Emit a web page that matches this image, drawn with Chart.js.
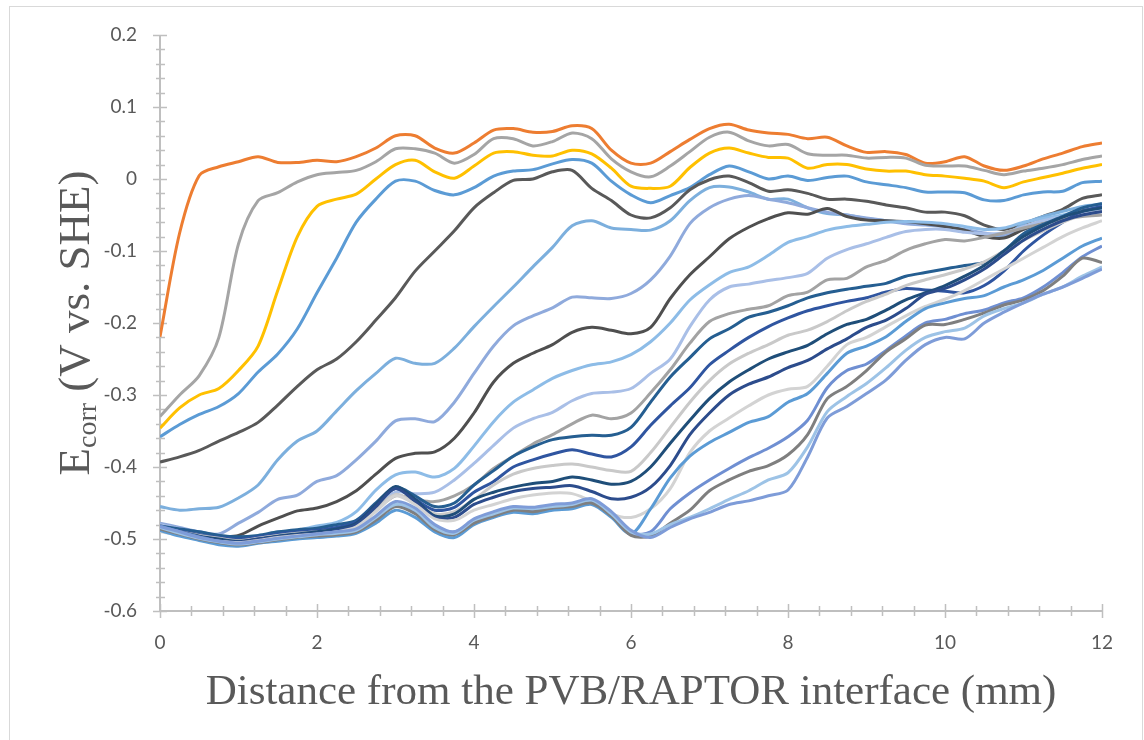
<!DOCTYPE html>
<html>
<head>
<meta charset="utf-8">
<script src="https://cdn.jsdelivr.net/npm/chart.js@4.4.1/dist/chart.umd.min.js"></script>
<style>
  html, body { margin: 0; padding: 0; background: #ffffff; }
  #wrap { width: 1144px; height: 740px; }
</style>
</head>
<body>
<div id="wrap"><canvas id="chart" width="1144" height="740"></canvas></div>
<script>
// Distance from the PVB/RAPTOR interface (mm)
const distanceMm = [0, 0.25, 0.5, 0.75, 1, 1.25, 1.5, 1.75, 2, 2.25, 2.5, 2.75, 3, 3.25, 3.5, 3.75,
  4, 4.25, 4.5, 4.75, 5, 5.25, 5.5, 5.75, 6, 6.25, 6.5, 6.75, 7, 7.25, 7.5, 7.75,
  8, 8.25, 8.5, 8.75, 9, 9.25, 9.5, 9.75, 10, 10.25, 10.5, 10.75, 11, 11.25, 11.5, 11.75, 12];

// Ecorr profiles (V vs. SHE), one array per scan
const scan01 = [-0.219,-0.075,0.005,0.017,0.024,0.031,0.023,0.023,0.026,0.024,0.031,0.043,0.06,0.06,0.043,0.036,0.05,0.068,0.07,0.065,0.066,0.074,0.07,0.04,0.022,0.022,0.038,0.055,0.07,0.076,0.068,0.064,0.062,0.056,0.058,0.046,0.037,0.038,0.034,0.022,0.024,0.031,0.018,0.012,0.018,0.028,0.036,0.045,0.05];
const scan02 = [-0.33,-0.3,-0.273,-0.22,-0.09,-0.03,-0.019,-0.004,0.006,0.009,0.012,0.024,0.042,0.042,0.036,0.022,0.034,0.056,0.056,0.046,0.052,0.064,0.056,0.028,0.01,0.003,0.018,0.038,0.058,0.065,0.053,0.046,0.048,0.035,0.033,0.033,0.029,0.03,0.029,0.019,0.018,0.018,0.012,0.006,0.011,0.015,0.02,0.027,0.032];
const scan03 = [-0.346,-0.318,-0.3,-0.291,-0.266,-0.232,-0.155,-0.08,-0.038,-0.028,-0.021,0.0,0.02,0.026,0.01,0.001,0.018,0.036,0.038,0.033,0.032,0.04,0.035,0.015,-0.01,-0.013,-0.01,0.016,0.036,0.043,0.036,0.03,0.029,0.015,0.02,0.02,0.014,0.011,0.011,0.006,0.004,0.001,-0.003,-0.012,-0.004,0.002,0.008,0.015,0.02];
const scan04 = [-0.358,-0.341,-0.327,-0.316,-0.298,-0.268,-0.243,-0.208,-0.158,-0.11,-0.06,-0.028,-0.003,-0.003,-0.016,-0.022,-0.012,0.004,0.011,0.013,0.021,0.027,0.022,-0.003,-0.022,-0.033,-0.023,-0.012,0.006,0.018,0.01,0.0,0.004,-0.002,0.002,0.004,-0.004,-0.008,-0.012,-0.018,-0.018,-0.019,-0.029,-0.03,-0.022,-0.018,-0.017,-0.005,-0.003];
const scan05 = [-0.393,-0.386,-0.377,-0.364,-0.352,-0.338,-0.314,-0.288,-0.265,-0.25,-0.226,-0.196,-0.165,-0.128,-0.1,-0.072,-0.04,-0.019,-0.002,0.0,0.01,0.012,-0.013,-0.03,-0.05,-0.054,-0.04,-0.015,-0.001,0.004,-0.005,-0.017,-0.015,-0.02,-0.028,-0.028,-0.031,-0.036,-0.04,-0.046,-0.046,-0.051,-0.064,-0.07,-0.062,-0.052,-0.042,-0.027,-0.022];
const scan06 = [-0.455,-0.46,-0.458,-0.456,-0.443,-0.425,-0.39,-0.364,-0.35,-0.322,-0.294,-0.27,-0.249,-0.256,-0.256,-0.235,-0.205,-0.177,-0.15,-0.122,-0.095,-0.065,-0.058,-0.068,-0.07,-0.071,-0.058,-0.03,-0.012,-0.011,-0.018,-0.028,-0.028,-0.04,-0.048,-0.05,-0.055,-0.058,-0.06,-0.063,-0.066,-0.071,-0.076,-0.08,-0.062,-0.052,-0.045,-0.038,-0.035];
const scan07 = [-0.478,-0.484,-0.49,-0.493,-0.478,-0.463,-0.445,-0.439,-0.42,-0.412,-0.39,-0.364,-0.336,-0.333,-0.337,-0.31,-0.27,-0.232,-0.204,-0.19,-0.179,-0.164,-0.165,-0.166,-0.159,-0.14,-0.107,-0.062,-0.04,-0.028,-0.023,-0.028,-0.033,-0.04,-0.046,-0.05,-0.054,-0.058,-0.062,-0.064,-0.066,-0.07,-0.075,-0.078,-0.07,-0.062,-0.055,-0.048,-0.042];
const scan08 = [-0.485,-0.488,-0.492,-0.496,-0.495,-0.482,-0.471,-0.461,-0.457,-0.448,-0.433,-0.41,-0.388,-0.381,-0.379,-0.36,-0.325,-0.282,-0.256,-0.242,-0.23,-0.213,-0.206,-0.21,-0.215,-0.206,-0.166,-0.133,-0.108,-0.083,-0.067,-0.055,-0.047,-0.049,-0.041,-0.052,-0.057,-0.058,-0.059,-0.062,-0.066,-0.071,-0.08,-0.082,-0.07,-0.06,-0.052,-0.044,-0.04];
const scan09 = [-0.483,-0.488,-0.494,-0.498,-0.499,-0.496,-0.492,-0.488,-0.482,-0.477,-0.462,-0.432,-0.411,-0.407,-0.414,-0.402,-0.371,-0.337,-0.31,-0.293,-0.277,-0.266,-0.258,-0.254,-0.244,-0.226,-0.2,-0.168,-0.147,-0.13,-0.122,-0.106,-0.088,-0.08,-0.071,-0.066,-0.063,-0.06,-0.059,-0.06,-0.062,-0.066,-0.07,-0.068,-0.06,-0.055,-0.05,-0.045,-0.042];
const scan10 = [-0.48,-0.486,-0.492,-0.497,-0.5,-0.497,-0.493,-0.488,-0.486,-0.482,-0.475,-0.455,-0.435,-0.437,-0.435,-0.418,-0.395,-0.37,-0.346,-0.333,-0.324,-0.308,-0.298,-0.296,-0.291,-0.27,-0.25,-0.205,-0.168,-0.15,-0.146,-0.141,-0.137,-0.131,-0.11,-0.098,-0.09,-0.081,-0.073,-0.07,-0.07,-0.074,-0.076,-0.075,-0.066,-0.058,-0.052,-0.048,-0.045];
const scan11 = [-0.482,-0.487,-0.493,-0.498,-0.5,-0.498,-0.494,-0.49,-0.488,-0.485,-0.478,-0.46,-0.44,-0.445,-0.448,-0.44,-0.425,-0.402,-0.385,-0.368,-0.355,-0.34,-0.328,-0.333,-0.325,-0.297,-0.265,-0.228,-0.198,-0.187,-0.181,-0.176,-0.162,-0.157,-0.14,-0.138,-0.122,-0.113,-0.099,-0.09,-0.084,-0.086,-0.081,-0.075,-0.068,-0.062,-0.056,-0.052,-0.05];
const scan12 = [-0.482,-0.486,-0.49,-0.495,-0.497,-0.495,-0.49,-0.487,-0.485,-0.48,-0.474,-0.45,-0.428,-0.44,-0.455,-0.45,-0.425,-0.405,-0.385,-0.372,-0.362,-0.358,-0.356,-0.356,-0.345,-0.31,-0.275,-0.248,-0.222,-0.208,-0.192,-0.185,-0.176,-0.165,-0.158,-0.153,-0.149,-0.145,-0.135,-0.13,-0.125,-0.12,-0.116,-0.1,-0.076,-0.063,-0.052,-0.04,-0.034];
const scan13 = [-0.484,-0.489,-0.494,-0.498,-0.5,-0.497,-0.493,-0.49,-0.488,-0.484,-0.476,-0.452,-0.43,-0.445,-0.46,-0.456,-0.435,-0.42,-0.4,-0.39,-0.382,-0.376,-0.382,-0.386,-0.372,-0.342,-0.315,-0.29,-0.258,-0.238,-0.22,-0.205,-0.193,-0.183,-0.176,-0.17,-0.165,-0.157,-0.152,-0.154,-0.156,-0.158,-0.148,-0.128,-0.1,-0.078,-0.06,-0.045,-0.038];
const scan14 = [-0.485,-0.49,-0.495,-0.499,-0.502,-0.499,-0.495,-0.492,-0.49,-0.487,-0.48,-0.458,-0.438,-0.45,-0.465,-0.462,-0.445,-0.425,-0.41,-0.402,-0.398,-0.396,-0.4,-0.405,-0.406,-0.38,-0.345,-0.31,-0.28,-0.257,-0.242,-0.23,-0.217,-0.21,-0.198,-0.183,-0.17,-0.16,-0.148,-0.14,-0.133,-0.125,-0.115,-0.1,-0.085,-0.072,-0.06,-0.05,-0.045];
const scan15 = [-0.486,-0.49,-0.496,-0.5,-0.503,-0.5,-0.496,-0.493,-0.49,-0.486,-0.478,-0.452,-0.427,-0.445,-0.468,-0.465,-0.445,-0.435,-0.428,-0.423,-0.42,-0.414,-0.418,-0.424,-0.42,-0.4,-0.367,-0.335,-0.305,-0.282,-0.265,-0.25,-0.24,-0.231,-0.215,-0.202,-0.195,-0.182,-0.168,-0.158,-0.148,-0.135,-0.12,-0.1,-0.08,-0.065,-0.053,-0.045,-0.04];
const scan16 = [-0.488,-0.492,-0.497,-0.502,-0.504,-0.5,-0.497,-0.494,-0.492,-0.488,-0.48,-0.455,-0.43,-0.448,-0.47,-0.47,-0.452,-0.442,-0.434,-0.43,-0.428,-0.426,-0.434,-0.444,-0.442,-0.428,-0.398,-0.355,-0.325,-0.3,-0.285,-0.275,-0.262,-0.252,-0.236,-0.222,-0.206,-0.196,-0.18,-0.16,-0.152,-0.14,-0.125,-0.105,-0.085,-0.07,-0.058,-0.05,-0.045];
const scan17 = [-0.49,-0.494,-0.499,-0.503,-0.505,-0.502,-0.498,-0.495,-0.493,-0.49,-0.483,-0.462,-0.44,-0.452,-0.472,-0.474,-0.46,-0.452,-0.444,-0.439,-0.436,-0.437,-0.448,-0.465,-0.47,-0.458,-0.43,-0.38,-0.35,-0.332,-0.315,-0.3,-0.292,-0.288,-0.26,-0.23,-0.22,-0.205,-0.19,-0.177,-0.167,-0.155,-0.14,-0.125,-0.11,-0.095,-0.08,-0.068,-0.058];
const scan18 = [-0.488,-0.496,-0.502,-0.508,-0.51,-0.506,-0.503,-0.5,-0.498,-0.496,-0.492,-0.478,-0.46,-0.47,-0.49,-0.498,-0.48,-0.47,-0.463,-0.465,-0.46,-0.458,-0.452,-0.47,-0.493,-0.458,-0.415,-0.385,-0.366,-0.352,-0.338,-0.33,-0.31,-0.298,-0.27,-0.242,-0.232,-0.219,-0.198,-0.18,-0.172,-0.166,-0.162,-0.15,-0.14,-0.127,-0.11,-0.093,-0.082];
const scan19 = [-0.482,-0.49,-0.497,-0.503,-0.506,-0.503,-0.5,-0.497,-0.495,-0.492,-0.488,-0.472,-0.452,-0.462,-0.483,-0.49,-0.476,-0.466,-0.458,-0.46,-0.456,-0.453,-0.448,-0.466,-0.492,-0.49,-0.458,-0.436,-0.418,-0.402,-0.387,-0.374,-0.358,-0.335,-0.29,-0.266,-0.257,-0.238,-0.218,-0.2,-0.195,-0.187,-0.182,-0.172,-0.165,-0.15,-0.13,-0.108,-0.093];
const scan20 = [-0.486,-0.493,-0.5,-0.505,-0.508,-0.505,-0.501,-0.498,-0.496,-0.494,-0.49,-0.474,-0.455,-0.465,-0.487,-0.494,-0.478,-0.468,-0.46,-0.462,-0.457,-0.455,-0.45,-0.468,-0.495,-0.496,-0.478,-0.46,-0.433,-0.418,-0.406,-0.398,-0.383,-0.355,-0.305,-0.288,-0.266,-0.24,-0.222,-0.203,-0.202,-0.195,-0.186,-0.175,-0.168,-0.155,-0.135,-0.11,-0.116];
const scan21 = [-0.484,-0.492,-0.499,-0.504,-0.507,-0.504,-0.5,-0.497,-0.494,-0.492,-0.488,-0.47,-0.452,-0.46,-0.484,-0.492,-0.474,-0.465,-0.457,-0.458,-0.455,-0.452,-0.446,-0.465,-0.49,-0.493,-0.48,-0.47,-0.458,-0.445,-0.433,-0.418,-0.408,-0.372,-0.323,-0.302,-0.284,-0.262,-0.238,-0.22,-0.212,-0.207,-0.19,-0.18,-0.172,-0.16,-0.15,-0.135,-0.122];
const scan22 = [-0.483,-0.49,-0.498,-0.503,-0.506,-0.503,-0.499,-0.496,-0.493,-0.49,-0.486,-0.468,-0.448,-0.457,-0.48,-0.49,-0.472,-0.462,-0.455,-0.456,-0.452,-0.45,-0.444,-0.462,-0.488,-0.498,-0.484,-0.472,-0.463,-0.452,-0.447,-0.44,-0.432,-0.386,-0.332,-0.316,-0.298,-0.279,-0.252,-0.23,-0.22,-0.222,-0.2,-0.185,-0.172,-0.16,-0.15,-0.138,-0.125];

const scans = [scan01, scan02, scan03, scan04, scan05, scan06, scan07, scan08, scan09, scan10, scan11,
  scan12, scan13, scan14, scan15, scan16, scan17, scan18, scan19, scan20, scan21, scan22];

// Axis tick labels
const xTickLabels = ['0', '2', '4', '6', '8', '10', '12'];
const yTickLabels = ['-0.6', '-0.5', '-0.4', '-0.3', '-0.2', '-0.1', '0', '0.1', '0.2'];

// Line colours, one per scan
const scanColors = ['#ED7D31', '#A5A5A5', '#FFC000', '#5B9BD5', '#595959', '#7CAFDD', '#8FAADC',
  '#4F4F4F', '#8DBCE7', '#A9BFE7', '#A3A3A3', '#255E91', '#2F55A0', '#C9C9C9', '#1F4E79',
  '#2C4C8C', '#D3D3D3', '#5B9BD5', '#6F8FD2', '#7F7F7F', '#9DC3E6', '#7E9CD8'];

const AXIS_GREY = '#BFBFBF';
const TEXT_GREY = '#595959';

const datasets = scans.map((vals, i) => ({
  label: 'Scan ' + (i + 1),
  data: distanceMm.map((x, j) => ({ x: x, y: vals[j] })),
  borderColor: scanColors[i],
  backgroundColor: scanColors[i],
  borderWidth: 3,
  pointRadius: 0,
  tension: 0.3,
  fill: false,
  order: -i
}));

// White background and thin outer frame
const framePlugin = {
  id: 'frame',
  beforeDraw(chart) {
    const ctx = chart.ctx;
    ctx.save();
    ctx.fillStyle = '#ffffff';
    ctx.fillRect(0, 0, chart.width, chart.height);
    ctx.strokeStyle = '#D9D9D9';
    ctx.lineWidth = 1;
    ctx.strokeRect(9.5, 6.5, 1133, 800);
    ctx.restore();
  }
};

// Axis lines with crossing major and minor tick marks
const axisTickPlugin = {
  id: 'axisTicks',
  beforeDatasetsDraw(chart) {
    const { ctx, chartArea: a, scales } = chart;
    const xs = scales.x, ys = scales.y;
    ctx.save();
    ctx.strokeStyle = AXIS_GREY;
    ctx.lineWidth = 2;
    ctx.beginPath();
    ctx.moveTo(a.left, a.top);
    ctx.lineTo(a.left, a.bottom);
    ctx.lineTo(a.right, a.bottom);
    ctx.stroke();
    ctx.lineWidth = 1.5;
    ctx.beginPath();
    for (let k = 0; k <= 40; k++) {
      const v = -0.6 + k * 0.02;
      const py = Math.round(ys.getPixelForValue(v)) + 0.5;
      const major = k % 5 === 0;
      ctx.moveTo(a.left - (major ? 7 : 4), py);
      ctx.lineTo(a.left + (major ? 7 : 5), py);
    }
    for (let k = 0; k <= 30; k++) {
      const v = k * 0.4;
      const px = Math.round(xs.getPixelForValue(v)) + 0.5;
      const major = k % 5 === 0;
      ctx.moveTo(px, a.bottom - (major ? 7 : 5));
      ctx.lineTo(px, a.bottom + (major ? 7 : 5));
    }
    ctx.stroke();
    ctx.restore();
  }
};

// Axis titles (the y title carries a subscript)
const xTitle = 'Distance from the PVB/RAPTOR interface (mm)';
const yTitleMain = 'E';
const yTitleSub = 'corr';
const yTitleRest = ' (V vs. SHE)';

const axisTitlePlugin = {
  id: 'axisTitles',
  afterDraw(chart) {
    const { ctx, chartArea: a } = chart;
    const xFont = '43px "Liberation Serif", "Times New Roman", serif';
    const big = '45px "Liberation Serif", "Times New Roman", serif';
    const small = '28px "Liberation Serif", "Times New Roman", serif';
    ctx.save();
    ctx.fillStyle = TEXT_GREY;
    ctx.textBaseline = 'alphabetic';
    ctx.font = xFont;
    ctx.textAlign = 'center';
    ctx.fillText(xTitle, (a.left + a.right) / 2, 704);

    ctx.textAlign = 'left';
    ctx.font = big;
    const wE = ctx.measureText(yTitleMain).width;
    const wR = ctx.measureText(yTitleRest).width;
    ctx.font = small;
    const wS = ctx.measureText(yTitleSub).width;
    const total = wE + wS + wR;
    ctx.translate(89, (a.top + a.bottom) / 2);
    ctx.rotate(-Math.PI / 2);
    let cx = -total / 2;
    ctx.font = big;
    ctx.fillText(yTitleMain, cx, 0);
    cx += wE;
    ctx.font = small;
    ctx.fillText(yTitleSub, cx, 7);
    cx += wS;
    ctx.font = big;
    ctx.fillText(yTitleRest, cx, 0);
    ctx.restore();
  }
};

const tickFont = { family: 'Lato, "Open Sans", sans-serif', size: 19 };

new Chart(document.getElementById('chart').getContext('2d'), {
  type: 'line',
  data: { datasets: datasets },
  options: {
    responsive: false,
    animation: false,
    devicePixelRatio: 1,
    layout: { padding: { left: 0, right: 42, top: 35, bottom: 0 } },
    plugins: { legend: { display: false }, tooltip: { enabled: false } },
    scales: {
      x: {
        type: 'linear',
        position: 'bottom',
        min: 0,
        max: 12,
        ticks: {
          stepSize: 2,
          color: TEXT_GREY,
          font: tickFont,
          padding: 20,
          maxRotation: 0,
          autoSkip: false,
          callback: (v, i) => xTickLabels[i]
        },
        grid: { display: false, drawTicks: false },
        border: { display: false },
        afterFit(scale) { scale.height = 129; }
      },
      y: {
        type: 'linear',
        min: -0.6,
        max: 0.2,
        ticks: {
          stepSize: 0.1,
          color: TEXT_GREY,
          font: tickFont,
          padding: 23,
          autoSkip: false,
          callback: (v, i) => yTickLabels[i]
        },
        grid: { display: false, drawTicks: false },
        border: { display: false },
        afterFit(scale) { scale.width = 160; }
      }
    }
  },
  plugins: [framePlugin, axisTickPlugin, axisTitlePlugin]
});
</script>
</body>
</html>
